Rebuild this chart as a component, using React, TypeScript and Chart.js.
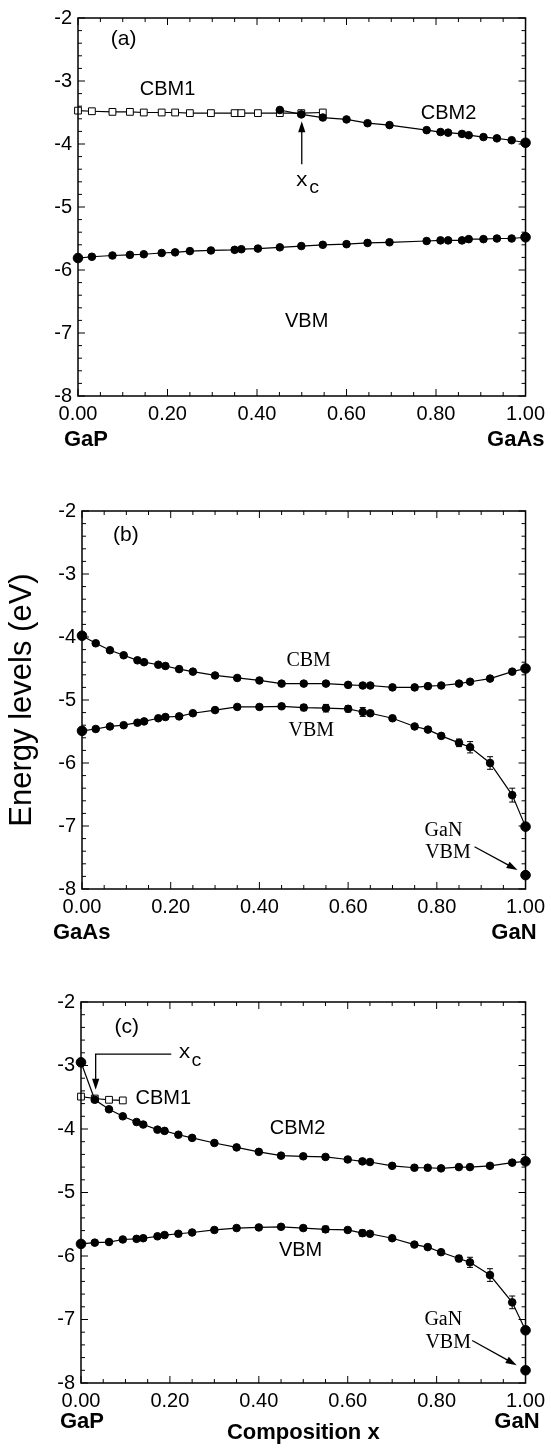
import React, { useEffect, useRef } from "react";
import { Chart, registerables } from "chart.js";

Chart.register(...registerables);

const SANS = "'Liberation Sans', Arial, Helvetica, sans-serif";
const SERIF = "'Liberation Serif', 'Times New Roman', serif";
const MONO = "'Liberation Mono', 'Courier New', monospace";

// ---------- Panel (a): GaP(1-x)As(x) ----------
const xA = [0, 0.031, 0.077, 0.116, 0.147, 0.187, 0.217, 0.25, 0.297, 0.35, 0.365, 0.402, 0.451, 0.499, 0.547, 0.6, 0.647, 0.696, 0.779, 0.81, 0.827, 0.858, 0.873, 0.906, 0.936, 0.969, 1.0];
const cbm1A = [-3.47, -3.48, -3.49, -3.49, -3.5, -3.5, -3.5, -3.51, -3.51, -3.51, -3.51, -3.51, -3.51, -3.51, -3.5];
const cbm2A = [-3.46, -3.53, -3.58, -3.61, -3.67, -3.7, -3.78, -3.81, -3.82, -3.84, -3.86, -3.89, -3.91, -3.94, -3.98];
const vbmA = [-5.81, -5.79, -5.77, -5.76, -5.75, -5.73, -5.72, -5.7, -5.69, -5.68, -5.67, -5.66, -5.64, -5.62, -5.6, -5.59, -5.57, -5.56, -5.54, -5.53, -5.53, -5.53, -5.51, -5.51, -5.5, -5.5, -5.48];

// ---------- Panel (b): GaAs(1-x)N(x) ----------
const xB = [0, 0.031, 0.063, 0.094, 0.125, 0.14, 0.172, 0.188, 0.219, 0.25, 0.3, 0.35, 0.4, 0.45, 0.5, 0.55, 0.6, 0.633, 0.65, 0.7, 0.75, 0.78, 0.81, 0.85, 0.875, 0.92, 0.97, 1.0];
const cbmB = [-3.98, -4.1, -4.21, -4.29, -4.37, -4.4, -4.44, -4.46, -4.51, -4.55, -4.61, -4.65, -4.69, -4.74, -4.74, -4.74, -4.76, -4.77, -4.77, -4.8, -4.8, -4.78, -4.77, -4.74, -4.71, -4.66, -4.55, -4.5];
const cbmErrB = [0, 0, 0, 0, 0, 0, 0, 0, 0, 0, 0, 0, 0, 0, 0, 0, 0, 0, 0, 0, 0, 0, 0.03, 0, 0, 0, 0, 0];
const vbmB = [-5.49, -5.46, -5.42, -5.4, -5.36, -5.34, -5.29, -5.27, -5.26, -5.21, -5.16, -5.11, -5.11, -5.1, -5.12, -5.13, -5.14, -5.19, -5.21, -5.29, -5.42, -5.47, -5.57, -5.68, -5.75, -6.0, -6.51, -7.01];
const vbmErrB = [0, 0, 0, 0, 0, 0, 0, 0, 0, 0, 0, 0, 0, 0.03, 0.05, 0.06, 0.05, 0.07, 0.03, 0, 0, 0, 0.03, 0.06, 0.09, 0.1, 0.11, 0];
const ganVbmB = [-7.78];

// ---------- Panel (c): GaP(1-x)N(x) ----------
const xC = [0, 0.031, 0.063, 0.094, 0.125, 0.14, 0.172, 0.188, 0.219, 0.25, 0.3, 0.35, 0.4, 0.45, 0.5, 0.55, 0.6, 0.633, 0.65, 0.7, 0.75, 0.78, 0.81, 0.85, 0.875, 0.92, 0.97, 1.0];
const cbm1XC = [0, 0.031, 0.063, 0.094];
const cbm1C = [-3.49, -3.52, -3.54, -3.55];
const cbm2C = [-2.95, -3.54, -3.69, -3.8, -3.89, -3.93, -4.01, -4.03, -4.09, -4.14, -4.22, -4.29, -4.36, -4.42, -4.43, -4.44, -4.48, -4.51, -4.52, -4.58, -4.61, -4.61, -4.62, -4.6, -4.6, -4.58, -4.53, -4.51];
const vbmC = [-5.81, -5.79, -5.78, -5.74, -5.73, -5.72, -5.69, -5.67, -5.65, -5.63, -5.59, -5.56, -5.55, -5.54, -5.56, -5.58, -5.59, -5.64, -5.65, -5.72, -5.82, -5.86, -5.94, -6.04, -6.1, -6.3, -6.73, -7.17];
const vbmErrC = [0, 0, 0, 0, 0, 0, 0, 0, 0, 0, 0, 0, 0, 0, 0.04, 0.05, 0, 0.05, 0, 0, 0, 0, 0, 0.05, 0.08, 0.1, 0.1, 0];
const ganVbmC = [-7.8];

// axis settings
const X_MIN = 0, X_MAX = 1, X_STEP = 0.2, X_MINOR = 0.05;
const Y_MIN = -8, Y_MAX = -2, Y_STEP = 1, Y_MINOR = 0.2;

type Txt = { t: string; x: number; y: number; font: string };
type Arr = { pts: [number, number][] };
type End = { t: string; side: "left" | "right"; dx: number; dy: number };

function xy(xs: number[], ys: number[]) {
  return ys.map((y, i) => ({ x: xs[i], y }));
}

const circleRadius = (c: any) => {
  const v = c.raw && c.raw.x;
  return v === 0 || v === 1 ? 4.8 : 3.8;
};

function circles(label: string, data: any[], errors?: number[], line = true) {
  return {
    label,
    data,
    errors,
    showLine: line,
    borderColor: "#000",
    borderWidth: 1.2,
    pointRadius: circleRadius,
    pointBackgroundColor: "#000",
    pointBorderColor: "#000",
    pointBorderWidth: 1,
    tension: 0,
    order: 1,
    clip: false,
  };
}

function squares(label: string, data: any[]) {
  return {
    label,
    data,
    showLine: true,
    borderColor: "#000",
    borderWidth: 1.2,
    pointStyle: "rect",
    pointRadius: 4.8,
    pointBackgroundColor: "#fff",
    pointBorderColor: "#000",
    pointBorderWidth: 1,
    tension: 0,
    order: 2,
    clip: false,
  };
}

const F_SANS = `20px ${SANS}`;
const F_SERIF = `20px ${SERIF}`;

const PANELS = [
  {
    top: 0,
    height: 460,
    area: { left: 78, right: 526, top: 15, bottom: 396 },
    datasets: [
      circles("CBM2", xy(xA.slice(12), cbm2A)),
      circles("VBM", xy(xA, vbmA)),
      squares("CBM1", xy(xA.slice(0, cbm1A.length), cbm1A)),
    ],
    texts: [
      { t: "(a)", x: 0.102, y: -2.33, font: `21px ${SANS}` },
      { t: "CBM1", x: 0.2, y: -3.13, font: F_SANS },
      { t: "CBM2", x: 0.828, y: -3.51, font: F_SANS },
      { t: "VBM", x: 0.511, y: -6.82, font: F_SANS },
      { t: "x", x: 0.5, y: -4.58, font: `21px ${MONO}` },
      { t: "c", x: 0.528, y: -4.71, font: `18px ${MONO}` },
    ] as Txt[],
    arrows: [{ pts: [[0.5, -4.32], [0.5, -3.64]] }] as Arr[],
    ends: [
      { t: "GaP", side: "left", dx: -14, dy: 44 },
      { t: "GaAs", side: "right", dx: 19, dy: 44 },
    ] as End[],
    yTitle: false,
    xTitle: false,
  },
  {
    top: 460,
    height: 480,
    area: { left: 82, right: 528, top: 51, bottom: 429 },
    datasets: [
      circles("CBM", xy(xB, cbmB), cbmErrB),
      circles("VBM", xy(xB, vbmB), vbmErrB),
      circles("GaN VBM", xy([1], ganVbmB), undefined, false),
    ],
    texts: [
      { t: "(b)", x: 0.099, y: -2.39, font: `21px ${SANS}` },
      { t: "CBM", x: 0.511, y: -4.38, font: F_SERIF },
      { t: "VBM", x: 0.517, y: -5.49, font: F_SERIF },
      { t: "GaN", x: 0.815, y: -7.08, font: F_SERIF },
      { t: "VBM", x: 0.825, y: -7.42, font: F_SERIF },
    ] as Txt[],
    arrows: [{ pts: [[0.885, -7.33], [0.982, -7.7]] }] as Arr[],
    ends: [
      { t: "GaAs", side: "left", dx: -29, dy: 44 },
      { t: "GaN", side: "right", dx: 11, dy: 44 },
    ] as End[],
    yTitle: true,
    xTitle: false,
  },
  {
    top: 940,
    height: 511,
    area: { left: 81, right: 529, top: 62, bottom: 443 },
    datasets: [
      circles("CBM2", xy(xC, cbm2C)),
      circles("VBM", xy(xC, vbmC), vbmErrC),
      circles("GaN VBM", xy([1], ganVbmC), undefined, false),
      squares("CBM1", xy(cbm1XC, cbm1C)),
    ],
    texts: [
      { t: "(c)", x: 0.103, y: -2.39, font: `21px ${SANS}` },
      { t: "x", x: 0.233, y: -2.8, font: `21px ${MONO}` },
      { t: "c", x: 0.26, y: -2.93, font: `18px ${MONO}` },
      { t: "CBM1", x: 0.185, y: -3.52, font: F_SANS },
      { t: "CBM2", x: 0.487, y: -3.99, font: F_SANS },
      { t: "VBM", x: 0.494, y: -5.92, font: F_SANS },
      { t: "GaN", x: 0.815, y: -7.01, font: F_SERIF },
      { t: "VBM", x: 0.826, y: -7.37, font: F_SERIF },
    ] as Txt[],
    arrows: [
      { pts: [[0.203, -2.82], [0.033, -2.82], [0.033, -3.38]] },
      { pts: [[0.88, -7.33], [0.98, -7.72]] },
    ] as Arr[],
    ends: [
      { t: "GaP", side: "left", dx: -21, dy: 39 },
      { t: "GaN", side: "right", dx: 14, dy: 39 },
    ] as End[],
    yTitle: false,
    xTitle: true,
  },
];

const decorPlugin = {
  id: "decor",
  afterDatasetsDraw(chart: any, _args: any, opts: any) {
    const { ctx, chartArea: ca } = chart;
    const xs = chart.scales.x;
    const ys = chart.scales.y;
    ctx.save();
    ctx.strokeStyle = "#000";
    ctx.fillStyle = "#000";

    // error bars
    ctx.lineWidth = 1;
    chart.data.datasets.forEach((ds: any) => {
      const errs: number[] | undefined = ds.errors;
      if (!errs) return;
      ds.data.forEach((p: any, i: number) => {
        const e = errs[i];
        if (!e) return;
        const px = xs.getPixelForValue(p.x);
        const y1 = ys.getPixelForValue(p.y + e);
        const y2 = ys.getPixelForValue(p.y - e);
        ctx.beginPath();
        ctx.moveTo(px, y1);
        ctx.lineTo(px, y2);
        ctx.moveTo(px - 3, y1);
        ctx.lineTo(px + 3, y1);
        ctx.moveTo(px - 3, y2);
        ctx.lineTo(px + 3, y2);
        ctx.stroke();
      });
    });

    // frame
    ctx.lineWidth = 1.5;
    ctx.strokeRect(ca.left, ca.top, ca.right - ca.left, ca.bottom - ca.top);

    // inward ticks on all four sides
    ctx.lineWidth = 1;
    ctx.beginPath();
    const nx = Math.round((X_MAX - X_MIN) / X_MINOR);
    const perMajX = Math.round(X_STEP / X_MINOR);
    for (let k = 0; k <= nx; k++) {
      const px = xs.getPixelForValue(X_MIN + k * X_MINOR);
      const len = k % perMajX === 0 ? 7 : 4;
      ctx.moveTo(px, ca.bottom);
      ctx.lineTo(px, ca.bottom - len);
      ctx.moveTo(px, ca.top);
      ctx.lineTo(px, ca.top + len);
    }
    const ny = Math.round((Y_MAX - Y_MIN) / Y_MINOR);
    const perMajY = Math.round(Y_STEP / Y_MINOR);
    for (let k = 0; k <= ny; k++) {
      const py = ys.getPixelForValue(Y_MIN + k * Y_MINOR);
      const len = k % perMajY === 0 ? 7 : 4;
      ctx.moveTo(ca.left, py);
      ctx.lineTo(ca.left + len, py);
      ctx.moveTo(ca.right, py);
      ctx.lineTo(ca.right - len, py);
    }
    ctx.stroke();

    // annotation texts
    ctx.textAlign = "center";
    ctx.textBaseline = "middle";
    (opts.texts || []).forEach((t: Txt) => {
      ctx.font = t.font;
      ctx.fillText(t.t, xs.getPixelForValue(t.x), ys.getPixelForValue(t.y));
    });

    // arrows
    ctx.lineWidth = 1.3;
    (opts.arrows || []).forEach((a: Arr) => {
      const p = a.pts.map(([x, y]) => [xs.getPixelForValue(x), ys.getPixelForValue(y)]);
      const n = p.length;
      const [ex, ey] = p[n - 1];
      const [sx, sy] = p[n - 2];
      const ang = Math.atan2(ey - sy, ex - sx);
      const hl = 11;
      const hw = 3.6;
      ctx.beginPath();
      ctx.moveTo(p[0][0], p[0][1]);
      for (let i = 1; i < n - 1; i++) ctx.lineTo(p[i][0], p[i][1]);
      ctx.lineTo(ex - Math.cos(ang) * hl * 0.8, ey - Math.sin(ang) * hl * 0.8);
      ctx.stroke();
      ctx.beginPath();
      ctx.moveTo(ex, ey);
      ctx.lineTo(ex - Math.cos(ang) * hl - Math.sin(ang) * hw, ey - Math.sin(ang) * hl + Math.cos(ang) * hw);
      ctx.lineTo(ex - Math.cos(ang) * hl + Math.sin(ang) * hw, ey - Math.sin(ang) * hl - Math.cos(ang) * hw);
      ctx.closePath();
      ctx.fill();
    });

    // end-member labels under the x axis
    ctx.font = `bold 22px ${SANS}`;
    (opts.ends || []).forEach((e: End) => {
      const base = e.side === "left" ? xs.getPixelForValue(X_MIN) : xs.getPixelForValue(X_MAX);
      ctx.textAlign = e.side === "left" ? "left" : "right";
      ctx.fillText(e.t, base + e.dx, ca.bottom + e.dy);
    });

    ctx.restore();
  },
};

function Panel({ cfg }: { cfg: (typeof PANELS)[number] }) {
  const ref = useRef<HTMLCanvasElement | null>(null);
  useEffect(() => {
    if (!ref.current) return;
    const W = 551;
    const { area, height } = cfg;
    const chart = new Chart(ref.current, {
      type: "line",
      data: { datasets: cfg.datasets as any },
      options: {
        animation: false,
        responsive: false,
        maintainAspectRatio: false,
        layout: { padding: { top: area.top, right: W - area.right, left: 0, bottom: 0 } },
        plugins: {
          legend: { display: false },
          tooltip: { enabled: false },
          decor: { texts: cfg.texts, arrows: cfg.arrows, ends: cfg.ends },
        } as any,
        scales: {
          x: {
            type: "linear",
            min: X_MIN,
            max: X_MAX,
            grid: { display: false, drawTicks: false },
            border: { display: false },
            ticks: {
              stepSize: X_STEP,
              autoSkip: false,
              maxRotation: 0,
              padding: 6,
              color: "#000",
              font: { family: SANS, size: 20 },
              callback: (v: any) => Number(v).toFixed(2),
            },
            title: {
              display: cfg.xTitle,
              text: "Composition x",
              color: "#000",
              font: { family: SANS, size: 22, weight: "bold" },
              padding: { top: 0, bottom: 5 },
            },
            afterFit: (s: any) => {
              s.height = height - area.bottom;
            },
          },
          y: {
            type: "linear",
            min: Y_MIN,
            max: Y_MAX,
            grid: { display: false, drawTicks: false },
            border: { display: false },
            ticks: {
              stepSize: Y_STEP,
              padding: 6,
              color: "#000",
              font: { family: SANS, size: 20 },
              callback: (v: any) => String(v),
            },
            title: {
              display: cfg.yTitle,
              text: "Energy levels (eV)",
              color: "#000",
              font: { family: SANS, size: 31 },
              padding: { top: 4, bottom: 0 },
            },
            afterFit: (s: any) => {
              s.width = area.left;
            },
          },
        },
      } as any,
      plugins: [decorPlugin],
    });
    return () => chart.destroy();
  }, [cfg]);
  return (
    <canvas
      ref={ref}
      width={551}
      height={cfg.height}
      style={{ position: "absolute", left: 0, top: cfg.top, width: 551, height: cfg.height }}
    />
  );
}

export default function App() {
  return (
    <div style={{ fontFamily: SANS }}>
      {PANELS.map((p, i) => (
        <Panel key={i} cfg={p} />
      ))}
    </div>
  );
}
